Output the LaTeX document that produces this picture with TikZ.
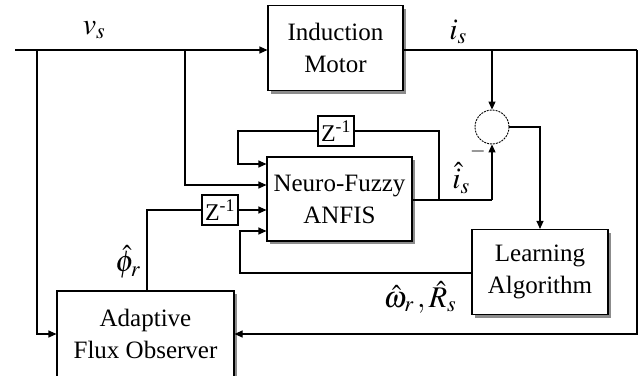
\documentclass[tikz,border=0pt]{standalone}
\usepackage{amsmath}
\usepackage{mathptmx}
\usepackage{fontspec}
\setmainfont{Liberation Serif}
\usepackage{tikz}
\usetikzlibrary{arrows.meta, positioning, shadows, calc}

\begin{document}
\begin{tikzpicture}[x=1pt, y=-1pt, >={Triangle[length=8pt,width=7pt]},
  line width=1.1pt,
  blk/.style={draw, fill=white, align=center, inner sep=0pt,
    font=\rmfamily\fontsize{25}{32}\selectfont,
    drop shadow={shadow xshift=3pt, shadow yshift=-3pt, fill=black!45, opacity=1}},
  zbox/.style={draw, fill=white, inner sep=0pt, minimum width=36pt,
    minimum height=30pt, font=\rmfamily\fontsize{24}{26}\selectfont},
  sumnode/.style={draw, circle, minimum size=34pt, inner sep=0pt,
    line width=0.9pt, dash pattern=on 2pt off 1pt},
  lbl/.style={inner sep=1pt, font=\rmfamily\fontsize{30}{32}\selectfont}
]
  \useasboundingbox (0,0) rectangle (642,375);
  % blocks
  \node[blk, minimum width=135pt, minimum height=85pt] (im) at (335.5,48) {Induction\\Motor};
  \node[blk, minimum width=145pt, minimum height=84pt] (nf) at (339.5,199) {Neuro-Fuzzy\\ANFIS};
  \node[blk, minimum width=136pt, minimum height=85pt] (la) at (540,272) {Learning\\Algorithm};
  \node[blk, minimum width=177pt, minimum height=86pt] (afo) at (145.5,334) {Adaptive\\Flux Observer};
  \node[zbox] (z1) at (336,131) {Z\textsuperscript{-1}};
  \node[zbox] (z2) at (220,210) {Z\textsuperscript{-1}};
  \node[sumnode] (sum) at (492,127) {};
  % points on the lines
  \coordinate (vin) at (15,50);
  \coordinate (br1) at (37,50);
  \coordinate (br2) at (185,50);
  \coordinate (isb) at (492,50);
  \coordinate (tr) at (637,50);
  \coordinate (nfo) at (492,200);
  \coordinate (fb) at (439,200);
  \coordinate (fbl) at (238,131);
  \coordinate (lal) at (240,273);
  \coordinate (afu) at (147,210);
  % signal lines
  \draw[->] (vin) -- (vin -| im.west);
  \draw[->] (br1) |- (afo.west);
  \draw[->] (br2) |- ([yshift=14pt]nf.west);
  \draw (im.east |- tr) -- (tr);
  \draw[->] (tr) |- (afo.east);
  \draw[->] (isb) -- (sum.north);
  \draw[->] (sum.east) -| (la.north);
  \draw (nf.east |- nfo) -- (nfo);
  \draw[->] (nfo) -- (sum.south);
  \draw (fb) |- (z1.east);
  \draw[->] (z1.west) -- (fbl) |- ([yshift=35pt]nf.west);
  \draw[->] (la.west |- lal) -| ([yshift=-32pt]nf.west -| lal) -- ([yshift=-32pt]nf.west);
  \draw (afo.north -| afu) |- (z2.west);
  \draw[->] (z2.east) -- (z2.east -| nf.west);
  % labels
  \node[lbl] (vs) at (94,30) {$v_s$};
  \node[lbl] (is) at (458,32) {$i_s$};
  \node[lbl] (phr) at (128,262) {$\hat{\phi}_r$};
  \node[lbl] (ish) at (461,178) {$\hat{i}_s$};
  \node[inner sep=0pt, font=\rmfamily\fontsize{20}{20}\selectfont] (neg) at (478,151) {$-$};
  \node[lbl] (wr) at (420,297) {$\hat{\omega}_r\,,\hat{R}_s$};
\end{tikzpicture}
\end{document}
